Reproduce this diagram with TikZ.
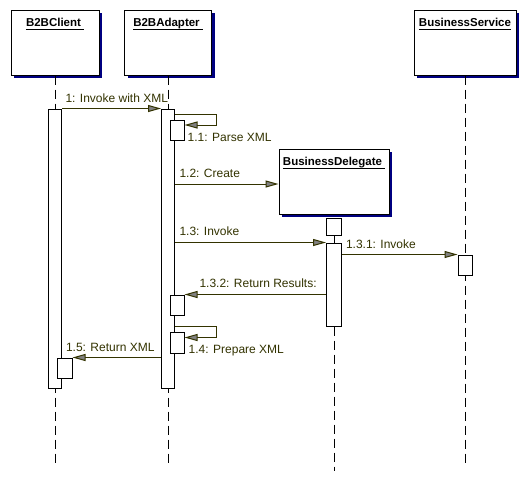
\documentclass[tikz,border=0pt]{standalone}
\usepackage{fontspec}
\setmainfont{Liberation Sans}
\usetikzlibrary{arrows.meta,shadows,positioning}
\begin{document}
\begin{tikzpicture}[x=1pt,y=-1pt,
  obj/.style={draw,fill=white,line width=1pt,minimum height=65pt,inner sep=0pt,
    drop shadow={shadow xshift=3pt,shadow yshift=-3pt,fill=shadowblue,opacity=1}},
  objname/.style={anchor=base,inner sep=0pt,font=\fontsize{11.5pt}{13pt}\selectfont\bfseries},
  bar/.style={draw,fill=white,line width=1pt,minimum width=13pt,inner sep=0pt},
  life/.style={line width=1pt,dash pattern=on 9pt off 5pt},
  msg/.style={draw=msgolive,line width=1pt,-{Triangle[length=13pt,width=7pt,fill=arrowgray]}},
  msgtext/.style={anchor=base west,inner sep=0pt,text=msgolive,font=\fontsize{12pt}{14pt}\selectfont}]
  \definecolor{msgolive}{HTML}{333300}
  \definecolor{arrowgray}{HTML}{808080}
  \definecolor{shadowblue}{HTML}{000080}
  \useasboundingbox [fill=white] (0,0) rectangle (528,477);
  \node [obj,minimum width=88pt] (client) at (55,42.5) {};
  \node [obj,minimum width=87pt] (adapter) at (168,42.5) {};
  \node [obj,minimum width=102pt] (service) at (465,42.5) {};
  \node [obj,minimum width=110pt] (delegate) at (334,181.5) {};
  \node [objname] (clientname) at ([yshift=-17pt]client.north) {B2BClient\kern3pt};
  \node [objname] (adaptername) at ([yshift=-17pt]adapter.north) {B2BAdapter\kern3pt};
  \node [objname] (servicename) at ([yshift=-17pt]service.north) {BusinessService};
  \node [objname] (delegatename) at ([yshift=-17pt]delegate.north) {BusinessDelegate\kern3pt};
  \foreach \n in {clientname,adaptername,servicename,delegatename}
    \draw [line width=1pt] ([yshift=-2.5pt]\n.base west) -- ([yshift=-2.5pt]\n.base east);
  \draw [life] (client.south) -- ++(0,388);
  \draw [life] (adapter.south) -- ++(0,388);
  \draw [life] (service.south) -- ++(0,388);
  \node [bar,minimum height=279pt,below=33pt of client.south] (clientbar) {};
  \node [bar,minimum height=279pt,below=33pt of adapter.south] (adapterbar) {};
  \node [bar,minimum width=15pt,minimum height=17pt,below=3pt of delegate.south] (delegatebar0) {};
  \node [bar,minimum width=15pt,minimum height=83pt,below=7pt of delegatebar0] (delegatebar) {};
  \node [bar,minimum width=14pt,minimum height=20pt,below=179pt of service.south] (servicebar) {};
  \node [bar,minimum width=14pt,minimum height=20pt,anchor=north] (parse) at ([xshift=9pt,yshift=-11pt]adapterbar.north) {};
  \node [bar,minimum width=14pt,minimum height=20pt,anchor=north] (results) at ([xshift=9pt,yshift=-186pt]adapterbar.north) {};
  \node [bar,minimum width=14pt,minimum height=21pt,anchor=north] (prepare) at ([xshift=9pt,yshift=-223pt]adapterbar.north) {};
  \node [bar,minimum width=15pt,minimum height=20pt,anchor=north] (returnxml) at ([xshift=9.5pt,yshift=-249pt]clientbar.north) {};
  \draw [line width=1pt] (delegatebar0.south) -- (delegatebar.north);
  \draw [life] (delegatebar.south) -- ++(0,144);
  \draw [msg] (clientbar.north east) -- node [msgtext,pos=0,xshift=3pt,yshift=6pt] {1: Invoke with XML} (adapterbar.north west);
  \draw [msg] ([yshift=5pt]parse.north -| adapterbar.east) -- ++(41,0) |- ([yshift=5pt]parse.east);
  \node [msgtext] at ([xshift=3pt,yshift=-11pt]parse.east) {1.1: Parse XML};
  \draw [msg] ([yshift=-2.5pt]delegate.west -| adapterbar.east) -- node [msgtext,pos=0,xshift=4pt,yshift=7pt] {1.2: Create} ([yshift=-2.5pt]delegate.west);
  \draw [msg] (delegatebar.north -| adapterbar.east) -- node [msgtext,pos=0,xshift=4pt,yshift=7pt] {1.3: Invoke} (delegatebar.north west);
  \draw [msg] (servicebar.north -| delegatebar.east) -- node [msgtext,pos=0,xshift=3.5pt,yshift=6.5pt] {1.3.1: Invoke} (servicebar.north west);
  \draw [msg] (results.north -| delegatebar.west) -- node [msgtext,pos=1,xshift=14.5pt,yshift=7pt] {1.3.2: Return Results:} (results.north east);
  \draw [msg] ([yshift=5pt]prepare.north -| adapterbar.east) -- ++(41,0) |- ([yshift=5pt]prepare.east);
  \node [msgtext] at ([xshift=4pt,yshift=-11pt]prepare.east) {1.4: Prepare XML};
  \draw [msg] (returnxml.north -| adapterbar.west) -- node [msgtext,pos=1,xshift=-7pt,yshift=6pt] {1.5: Return XML} (returnxml.north east);
\end{tikzpicture}
\end{document}
